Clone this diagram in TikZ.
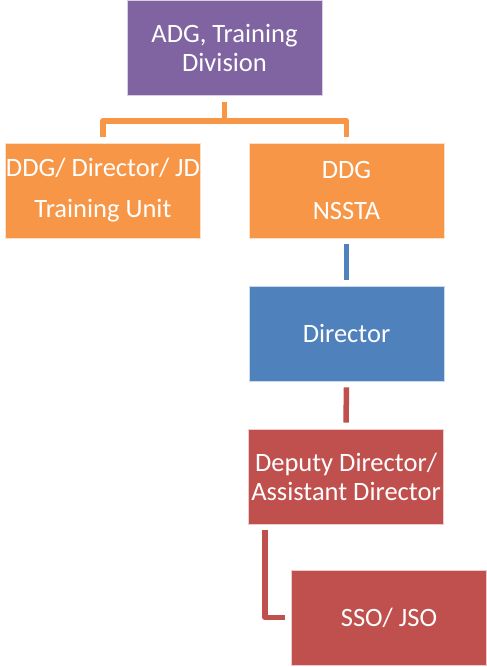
\documentclass[tikz,border=0pt]{standalone}
\usepackage{fontspec}
\setmainfont{Carlito}
\definecolor{cpurple}{HTML}{8064A2}
\definecolor{corange}{HTML}{F79646}
\definecolor{cblue}{HTML}{4F81BD}
\definecolor{cred}{HTML}{C0504D}
\begin{document}
\begin{tikzpicture}[x=1pt,y=-1pt,
  box/.style={rectangle, draw=white!70!#1, line width=0.6pt, fill=#1, text=white,
    minimum width=195pt, minimum height=95pt, inner sep=0pt, align=center,
    font=\fontsize{26.5}{29}\selectfont},
  conn/.style={draw=#1, line width=5.5pt, line join=round},
  tall/.style={font=\fontsize{26.5}{41}\selectfont}
]
\useasboundingbox (0,0) rectangle (487,667);
\node[box=cpurple] (top) at (224.5,48) {ADG, Training\\Division};
\node[box=corange, tall] (left) at (103,190.5) {DDG/ Director/ JD\\Training Unit};
\node[box=corange, tall] (right) at (346.5,190.5) {DDG\\NSSTA};
\node[box=cblue] (dir) at (346.5,333.5) {Director};
\node[box=cred] (dep) at (346,476.5) {Deputy Director/\\Assistant Director};
\node[box=cred] (sso) at (389,617.5) {SSO/ JSO};

\draw[conn=corange] ([yshift=-6pt]top.south) -- ++(0,19) coordinate (j);
\draw[conn=corange] ([yshift=6pt]left.north) |- (j) -| ([yshift=6pt]right.north);
\draw[conn=cblue] ([yshift=-6pt]right.south) -- ([yshift=6pt]dir.north);
\draw[conn=cred] ([yshift=-6pt]dir.south) -- ([yshift=6pt]dep.north);
\draw[conn=cred] ([xshift=17pt,yshift=-6pt]dep.south west) |- ([xshift=-6pt]sso.west);
\end{tikzpicture}
\end{document}
